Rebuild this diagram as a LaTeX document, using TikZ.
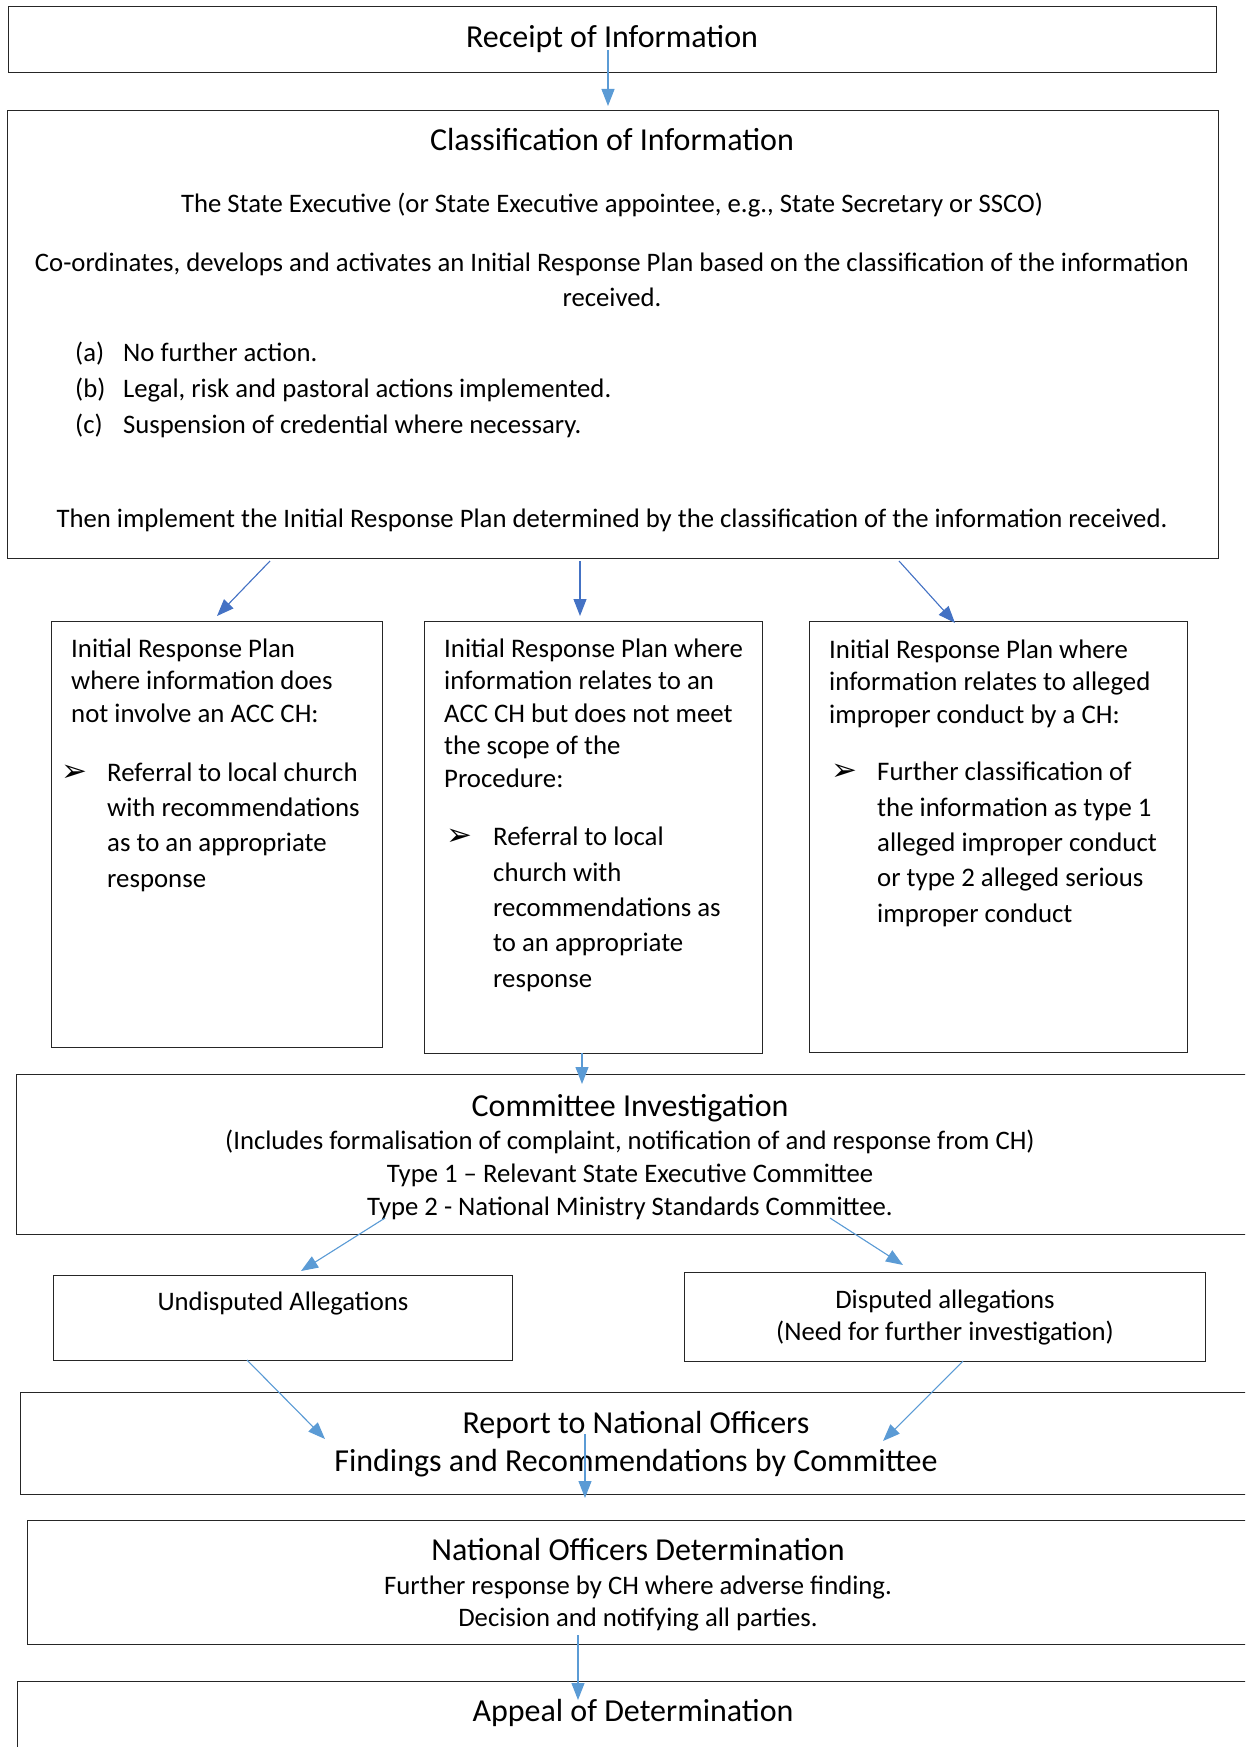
\documentclass[tikz,border=0pt]{standalone}
\usepackage{fontspec}
\setmainfont{Carlito}
\newfontfamily\dejavu{DejaVu Sans}
\usetikzlibrary{arrows.meta}
\definecolor{arrlight}{HTML}{5B9BD5}
\definecolor{arrdark}{HTML}{4472C4}
\newcommand{\ttl}{\fontsize{32}{38}\selectfont}
\newcommand{\bdy}{\fontsize{26.7}{35}\selectfont}
\newcommand{\sbx}{\fontsize{26.8}{32.5}\selectfont}
\newcommand{\sbb}{\fontsize{26.8}{35.3}\selectfont}
\newcommand{\bulsym}{{\dejavu\fontsize{31}{31}\selectfont ➢}}
\newcommand{\bul}{\makebox[46pt][l]{\bulsym}}
\begin{document}
\begin{tikzpicture}[x=1pt,y=-1pt,
  box/.style={draw=black!85,line width=1.3pt,inner sep=0pt,anchor=north west},
  txt/.style={inner sep=0pt,align=center,anchor=base},
  ltxt/.style={inner sep=0pt,align=left,anchor=base west},
  arr/.style={draw=arrlight,line width=1.1pt,-{Triangle[length=17pt,width=13pt]},fill=arrlight},
  arrd/.style={draw=arrdark,line width=1.1pt,-{Triangle[length=17pt,width=13pt]},fill=arrdark}]
\useasboundingbox (0,0) rectangle (1245,1747);
\clip (0,0) rectangle (1245,1747);
% boxes
\node[box,minimum width=1208pt,minimum height=66pt] (recv) at (8,6) {};
\node[box,minimum width=1211pt,minimum height=448pt] (clas) at (7,110) {};
\node[box,minimum width=331pt,minimum height=426pt] (left) at (51,621) {};
\node[box,minimum width=338pt,minimum height=432pt] (mid) at (424,621) {};
\node[box,minimum width=378pt,minimum height=431pt] (right) at (809,621) {};
\node[box,minimum width=1250pt,minimum height=160pt] (comm) at (16,1074) {};
\node[box,minimum width=459pt,minimum height=85pt] (undis) at (53,1275) {};
\node[box,minimum width=521pt,minimum height=89pt] (dis) at (684,1272) {};
\node[box,minimum width=1250pt,minimum height=102pt] (rep) at (20,1392) {};
\node[box,minimum width=1250pt,minimum height=124pt] (nod) at (27,1520) {};
\node[box,minimum width=1250pt,minimum height=100pt] (app) at (17,1681) {};
% texts (multi-line nodes are placed by the baseline of their last line)
\node[txt,font=\ttl] (t-recv) at (612,48) {Receipt of Information};
\node[txt,font=\ttl] (t-clas) at (612,151) {Classification of Information};
\node[txt,font=\bdy] (t-se) at (612,212) {The State Executive (or State Executive appointee, e.g., State Secretary or SSCO)};
\node[txt,font=\bdy] (t-co) at (612,306) {Co-ordinates, develops and activates an Initial Response Plan based on the classification of the information\\received.};
\node[ltxt,font=\fontsize{26.7}{36}\selectfont] (t-list) at (75,433) {\makebox[48pt][l]{(a)}No further action.\\\makebox[48pt][l]{(b)}Legal, risk and pastoral actions implemented.\\\makebox[48pt][l]{(c)}Suspension of credential where necessary.};
\node[txt,font=\bdy] (t-then) at (612,527) {Then implement the Initial Response Plan determined by the classification of the information received.};
\node[ltxt,font=\sbx] (t-l1) at (71,722) {Initial Response Plan\\where information does\\not involve an ACC CH:};
\node[ltxt,font=\sbb] (t-l2) at (61,887) {\bul Referral to local church\\\hspace*{46pt}with recommendations\\\hspace*{46pt}as to an appropriate\\\hspace*{46pt}response};
\node[ltxt,font=\sbx] (t-m1) at (444,787) {Initial Response Plan where\\information relates to an\\ACC CH but does not meet\\the scope of the\\Procedure:};
\node[ltxt,font=\sbb] (t-m2) at (446,987) {\makebox[47pt][l]{\bulsym}Referral to local\\\hspace*{47pt}church with\\\hspace*{47pt}recommendations as\\\hspace*{47pt}to an appropriate\\\hspace*{47pt}response};
\node[ltxt,font=\sbx] (t-r1) at (829,723) {Initial Response Plan where\\information relates to alleged\\improper conduct by a CH:};
\node[ltxt,font=\sbb] (t-r2) at (831,922) {\bul Further classification of\\\hspace*{46pt}the information as type 1\\\hspace*{46pt}alleged improper conduct\\\hspace*{46pt}or type 2 alleged serious\\\hspace*{46pt}improper conduct};
\node[txt,font=\ttl] (t-comm) at (630,1116) {Committee Investigation};
\node[txt,font=\fontsize{26.7}{33}\selectfont] (t-comm2) at (630,1215) {(Includes formalisation of complaint, notification of and response from CH)\\Type 1 -- Relevant State Executive Committee\\Type 2 - National Ministry Standards Committee.};
\node[txt,font=\bdy] (t-undis) at (283,1310) {Undisputed Allegations};
\node[txt,font=\fontsize{26.7}{32}\selectfont] (t-dis) at (945,1340) {Disputed allegations\\(Need for further investigation)};
\node[txt,font=\fontsize{32}{38}\selectfont] (t-rep) at (636,1471) {Report to National Officers\\Findings and Recommendations by Committee};
\node[txt,font=\ttl] (t-nod) at (638,1560) {National Officers Determination};
\node[txt,font=\fontsize{26.7}{32}\selectfont] (t-nod2) at (638,1626) {Further response by CH where adverse finding.\\Decision and notifying all parties.};
\node[txt,font=\ttl] (t-app) at (633,1721) {Appeal of Determination};
% arrow end points
\coordinate (a1s) at (608,50);  \coordinate (a1e) at (608,106);
\coordinate (a2s) at (270,561); \coordinate (a2e) at (217,616);
\coordinate (a3s) at (580,561); \coordinate (a3e) at (580,616);
\coordinate (a4s) at (899,561); \coordinate (a4e) at (955,623);
\coordinate (a5s) at (582,1053); \coordinate (a5e) at (582,1084);
\coordinate (a6s) at (385,1218); \coordinate (a6e) at (301,1271);
\coordinate (a7s) at (830,1218); \coordinate (a7e) at (903,1265);
\coordinate (a8s) at (247,1360); \coordinate (a8e) at (325,1439);
\coordinate (a9s) at (963,1361); \coordinate (a9e) at (883,1441);
\coordinate (a10s) at (585,1434); \coordinate (a10e) at (585,1498);
\coordinate (a11s) at (578,1635); \coordinate (a11e) at (578,1700);
\draw[arr] (a1s) -- (a1e);
\draw[arrd] (a2s) -- (a2e);
\draw[arrd] (a3s) -- (a3e);
\draw[arrd] (a4s) -- (a4e);
\draw[arr] (a5s) -- (a5e);
\draw[arr] (a6s) -- (a6e);
\draw[arr] (a7s) -- (a7e);
\draw[arr] (a8s) -- (a8e);
\draw[arr] (a9s) -- (a9e);
\draw[arr] (a10s) -- (a10e);
\draw[arr] (a11s) -- (a11e);
\end{tikzpicture}
\end{document}
